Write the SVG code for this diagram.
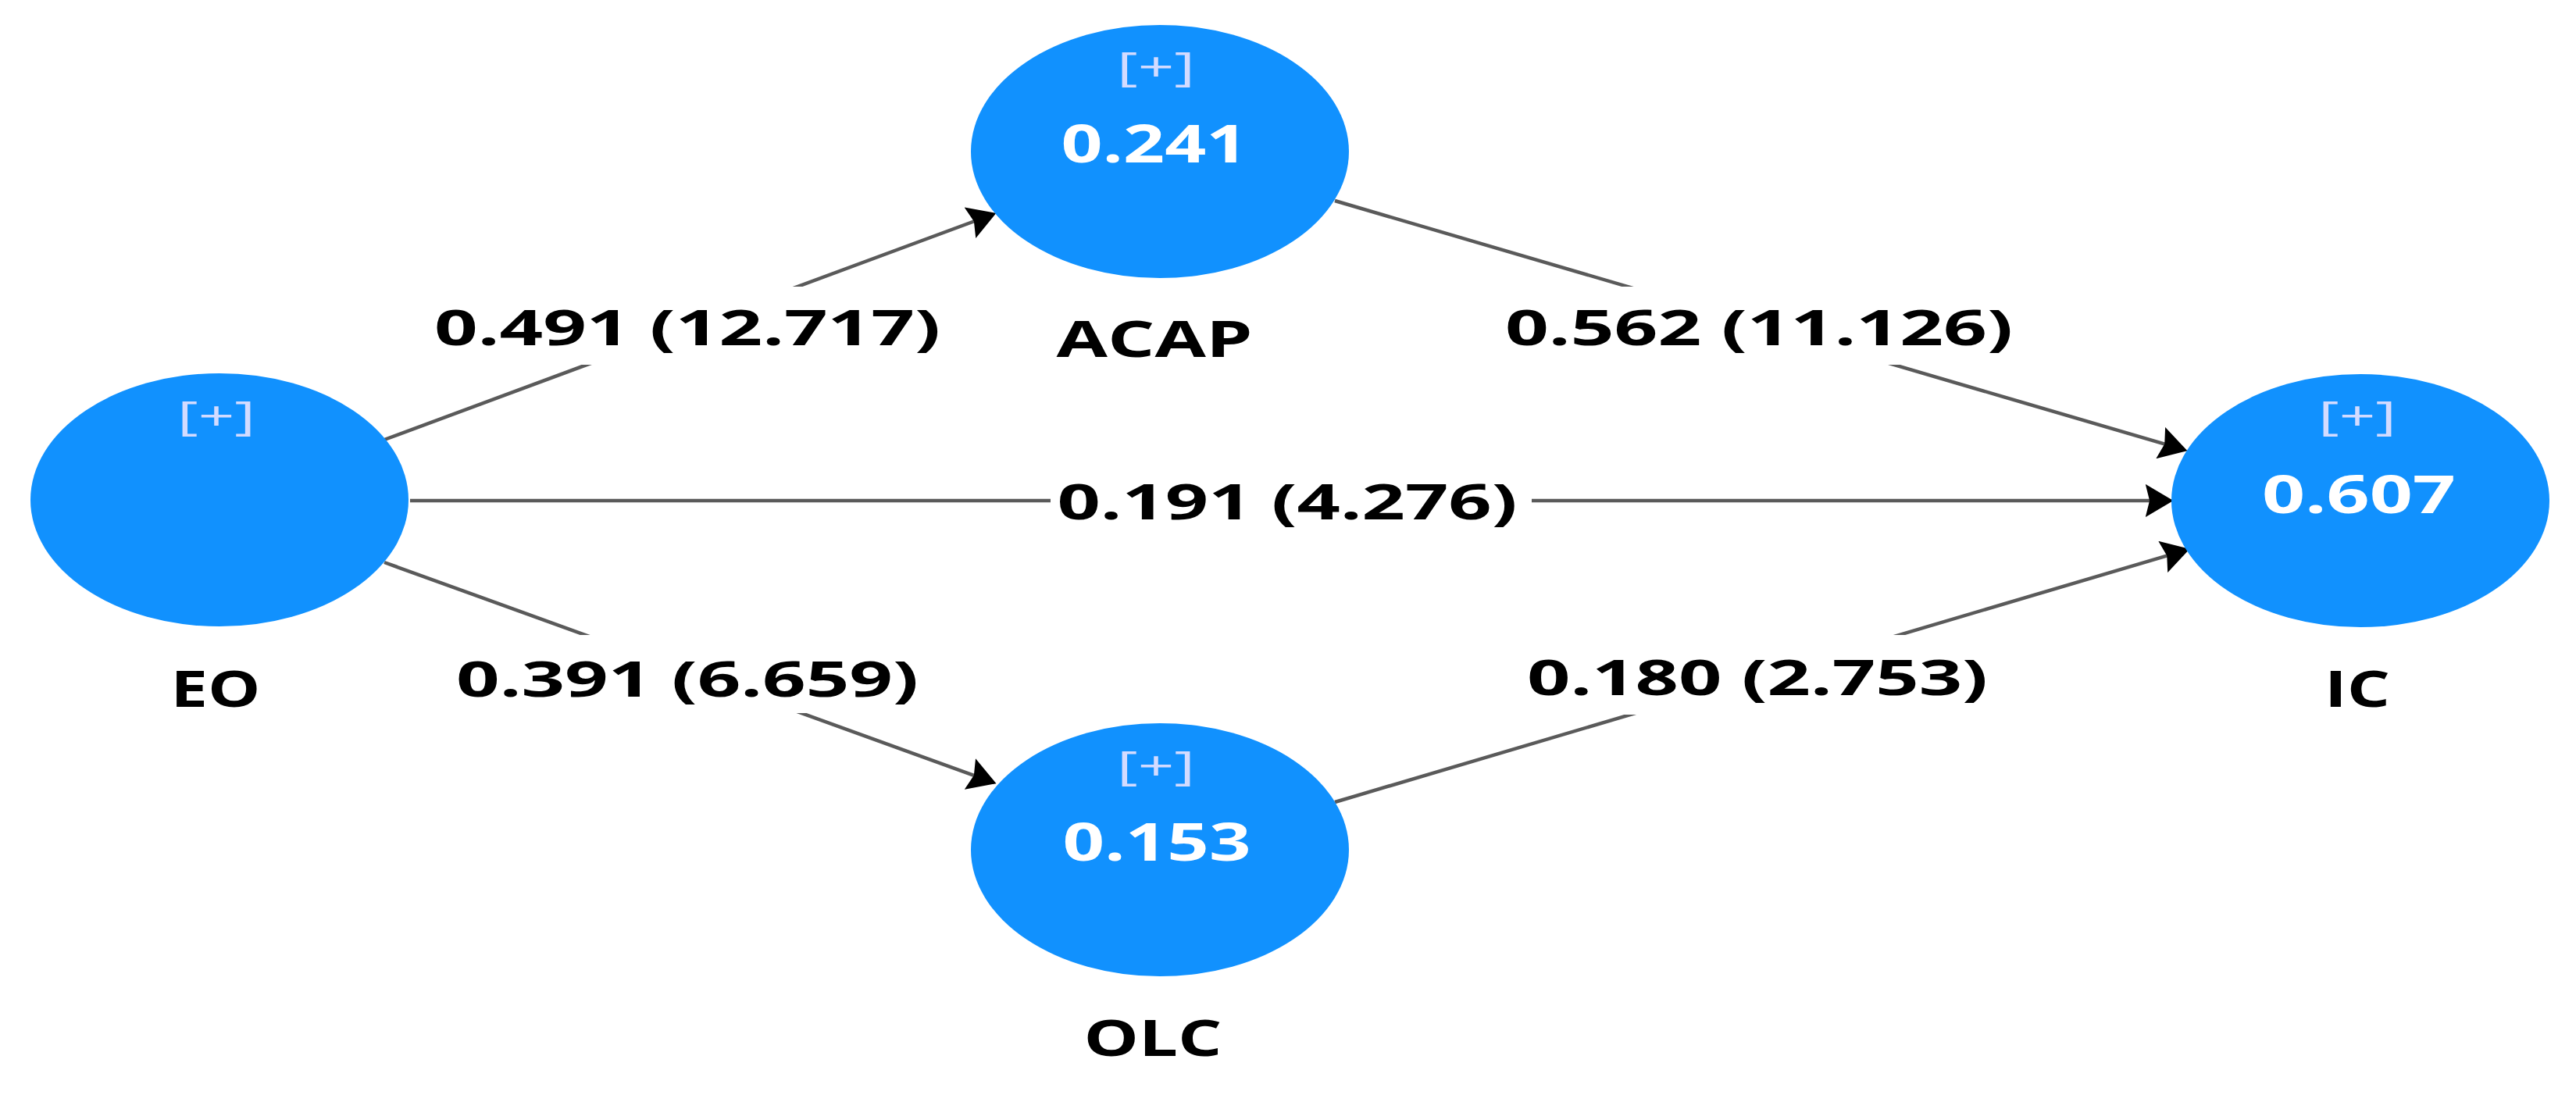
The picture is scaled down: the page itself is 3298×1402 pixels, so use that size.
<svg xmlns="http://www.w3.org/2000/svg" width="3298" height="1402" viewBox="0 0 3298 1402">
<style>
.node{fill:#1191fe}
.plus{font-family:"Open Sans","DejaVu Sans",sans-serif;font-size:52px;font-weight:400;fill:#d3dbff;text-anchor:middle}
.val{font-family:"Open Sans","DejaVu Sans",sans-serif;font-size:66px;font-weight:700;fill:#ffffff;text-anchor:middle}
.name{font-family:"Open Sans","DejaVu Sans",sans-serif;font-size:65px;font-weight:700;fill:#000000;text-anchor:middle}
.edge{stroke:#5a5a5a;stroke-width:4.5;fill:none;marker-end:url(#arr)}
.lbg{fill:#ffffff}
.lbl{font-family:"Open Sans","DejaVu Sans",sans-serif;font-size:63px;font-weight:700;fill:#000000;text-anchor:middle}
</style>
<defs>
<marker id="arr" markerUnits="userSpaceOnUse" markerWidth="36" markerHeight="42" viewBox="0 0 34 40" refX="24" refY="20" orient="auto">
<path d="M0,0 L34,20 L0,40 L5,20 Z" fill="#000000"/>
</marker>
</defs>
<rect width="3298" height="1402" fill="#ffffff"/>
<g id="connectors">
<line class="edge" x1="492" y1="563" x2="1265.6" y2="276.5"/>
<line class="edge" x1="1709" y1="257" x2="2790.4" y2="574.2"/>
<line class="edge" x1="525" y1="641" x2="2772" y2="641"/>
<line class="edge" x1="492" y1="720" x2="1265.6" y2="999.6"/>
<line class="edge" x1="1709" y1="1027" x2="2793.4" y2="705.8"/>
<rect class="lbg" x="546" y="367" width="668" height="100"/>
<text class="lbl" x="880" y="442" textLength="648" lengthAdjust="spacingAndGlyphs">0.491 (12.717)</text>
<rect class="lbg" x="1917" y="367" width="670" height="100"/>
<text class="lbl" x="2252" y="442" textLength="650" lengthAdjust="spacingAndGlyphs">0.562 (11.126)</text>
<rect class="lbg" x="1345" y="591" width="616" height="100"/>
<text class="lbl" x="1648" y="665" textLength="589" lengthAdjust="spacingAndGlyphs">0.191 (4.276)</text>
<rect class="lbg" x="574" y="813" width="612" height="100"/>
<text class="lbl" x="880" y="892" textLength="592" lengthAdjust="spacingAndGlyphs">0.391 (6.659)</text>
<rect class="lbg" x="1945" y="813" width="610" height="102"/>
<text class="lbl" x="2250" y="890" textLength="590" lengthAdjust="spacingAndGlyphs">0.180 (2.753)</text>
</g>
<g id="EO">
<ellipse class="node" cx="281" cy="640" rx="242" ry="162"/>
<text class="plus" x="277" y="551" textLength="100" lengthAdjust="spacingAndGlyphs">[+]</text>
<text class="name" x="276" y="905" textLength="115" lengthAdjust="spacingAndGlyphs">EO</text>
</g>
<g id="ACAP">
<ellipse class="node" cx="1485" cy="194" rx="242" ry="162"/>
<text class="plus" x="1480" y="104" textLength="100" lengthAdjust="spacingAndGlyphs">[+]</text>
<text class="val" x="1478" y="208" textLength="239" lengthAdjust="spacingAndGlyphs">0.241</text>
<text class="name" x="1478" y="457" textLength="251" lengthAdjust="spacingAndGlyphs">ACAP</text>
</g>
<g id="OLC">
<ellipse class="node" cx="1485" cy="1088" rx="242" ry="162"/>
<text class="plus" x="1480" y="999" textLength="100" lengthAdjust="spacingAndGlyphs">[+]</text>
<text class="val" x="1481" y="1102" textLength="241" lengthAdjust="spacingAndGlyphs">0.153</text>
<text class="name" x="1476" y="1352" textLength="177" lengthAdjust="spacingAndGlyphs">OLC</text>
</g>
<g id="IC">
<ellipse class="node" cx="3022" cy="641" rx="242" ry="162"/>
<text class="plus" x="3018" y="551" textLength="100" lengthAdjust="spacingAndGlyphs">[+]</text>
<text class="val" x="3020" y="657" textLength="248" lengthAdjust="spacingAndGlyphs">0.607</text>
<text class="name" x="3018" y="905" textLength="84" lengthAdjust="spacingAndGlyphs">IC</text>
</g>
</svg>
